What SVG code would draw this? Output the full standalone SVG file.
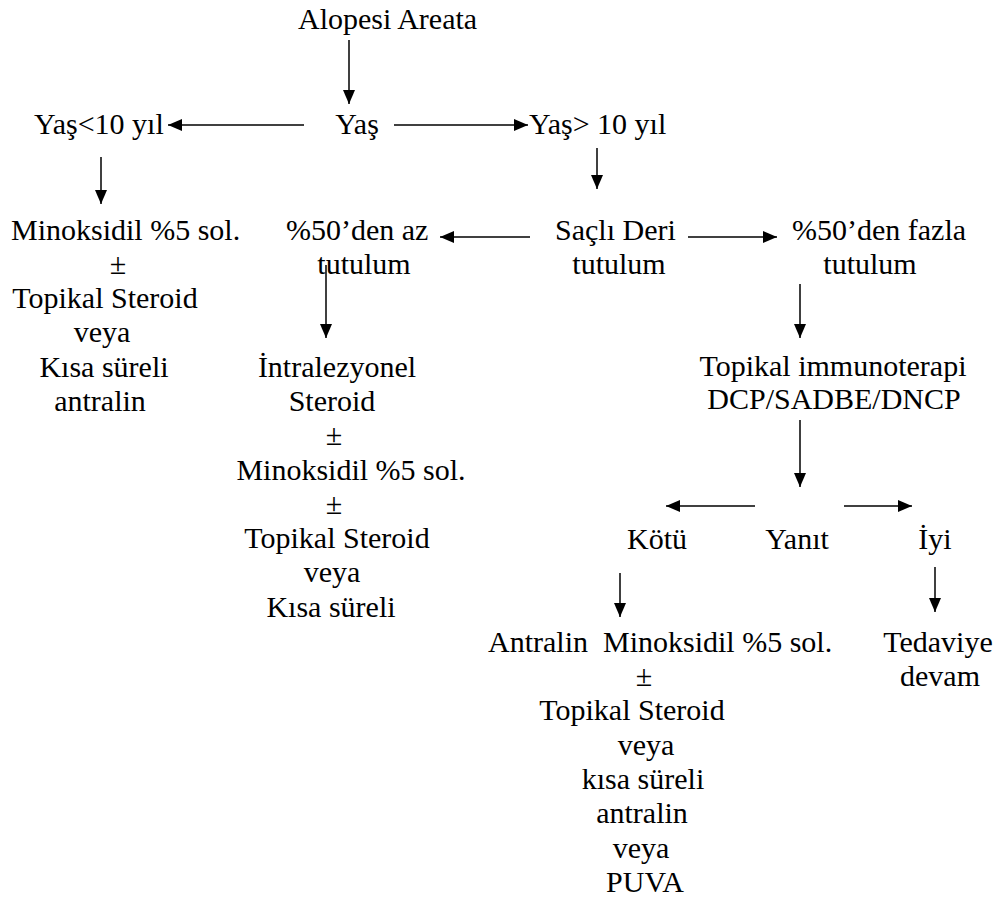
<svg xmlns="http://www.w3.org/2000/svg" width="1000" height="900" viewBox="0 0 1000 900">
<style>
text{font-family:"Liberation Serif","Times New Roman",serif;font-size:30px;fill:#000}
.m{text-anchor:middle}
.c line{stroke:#000;stroke-width:1.5;marker-end:url(#ah)}
</style>
<defs>
<marker id="ah" markerUnits="userSpaceOnUse" markerWidth="14" markerHeight="12" refX="14" refY="6" orient="auto">
<path d="M0,0 L14,6 L0,12 z" fill="#000"/>
</marker>
</defs>
<rect width="1000" height="900" fill="#fff"/>
<g class="c" id="connectors">
<line x1="349" y1="40" x2="349" y2="104"/>
<line x1="304" y1="125" x2="168" y2="125"/>
<line x1="394" y1="125" x2="528" y2="125"/>
<line x1="597" y1="148" x2="597" y2="189"/>
<line x1="101" y1="157" x2="101" y2="204"/>
<line x1="530" y1="237" x2="440" y2="237"/>
<line x1="688" y1="237" x2="777" y2="237"/>
<line x1="326" y1="265" x2="326" y2="338"/>
<line x1="800" y1="284" x2="800" y2="338"/>
<line x1="800" y1="420" x2="800" y2="487"/>
<line x1="755" y1="506" x2="666" y2="506"/>
<line x1="844" y1="506" x2="912" y2="506"/>
<line x1="620" y1="573" x2="620" y2="617"/>
<line x1="935" y1="567" x2="935" y2="612"/>
</g>
<g id="n-alopesi"><text x="298" y="29">Alopesi Areata</text></g>
<g id="n-yas"><text class="m" x="357" y="134">Yaş</text></g>
<g id="n-yas-lt"><text x="34" y="134">Yaş&lt;10 yıl</text></g>
<g id="n-yas-gt"><text x="529" y="134">Yaş&gt; 10 yıl</text></g>
<g id="n-left">
<text x="11" y="240">Minoksidil %5 sol.</text>
<text class="m" x="118" y="274">±</text>
<text class="m" x="105" y="308">Topikal Steroid</text>
<text class="m" x="102" y="342">veya</text>
<text class="m" x="104" y="377">Kısa süreli</text>
<text class="m" x="100" y="411">antralin</text>
</g>
<g id="n-az">
<text x="286" y="240">%50’den az</text>
<text class="m" x="364" y="274">tutulum</text>
</g>
<g id="n-sacli">
<text x="555" y="240">Saçlı Deri</text>
<text class="m" x="619" y="274">tutulum</text>
</g>
<g id="n-fazla">
<text x="792" y="240">%50’den fazla</text>
<text class="m" x="870" y="274">tutulum</text>
</g>
<g id="n-intra">
<text class="m" x="337" y="377">İntralezyonel</text>
<text class="m" x="332" y="411">Steroid</text>
<text class="m" x="334" y="445">±</text>
<text class="m" x="351" y="480">Minoksidil %5 sol.</text>
<text class="m" x="334" y="514">±</text>
<text class="m" x="337" y="548">Topikal Steroid</text>
<text class="m" x="332" y="582">veya</text>
<text class="m" x="331" y="617">Kısa süreli</text>
</g>
<g id="n-immuno">
<text class="m" x="833" y="376">Topikal immunoterapi</text>
<text class="m" x="834" y="409">DCP/SADBE/DNCP</text>
</g>
<g id="n-yanit"><text class="m" x="797" y="549">Yanıt</text></g>
<g id="n-kotu"><text class="m" x="657" y="549">Kötü</text></g>
<g id="n-iyi"><text class="m" x="935" y="549">İyi</text></g>
<g id="n-kotu-tx">
<text x="488" y="652" xml:space="preserve">Antralin  Minoksidil %5 sol.</text>
<text class="m" x="644" y="686">±</text>
<text class="m" x="632" y="720">Topikal Steroid</text>
<text class="m" x="646" y="755">veya</text>
<text class="m" x="643" y="789">kısa süreli</text>
<text class="m" x="642" y="823">antralin</text>
<text class="m" x="641" y="858">veya</text>
<text class="m" x="645" y="892">PUVA</text>
</g>
<g id="n-tedavi">
<text class="m" x="938" y="652">Tedaviye</text>
<text class="m" x="940" y="686">devam</text>
</g>
</svg>
